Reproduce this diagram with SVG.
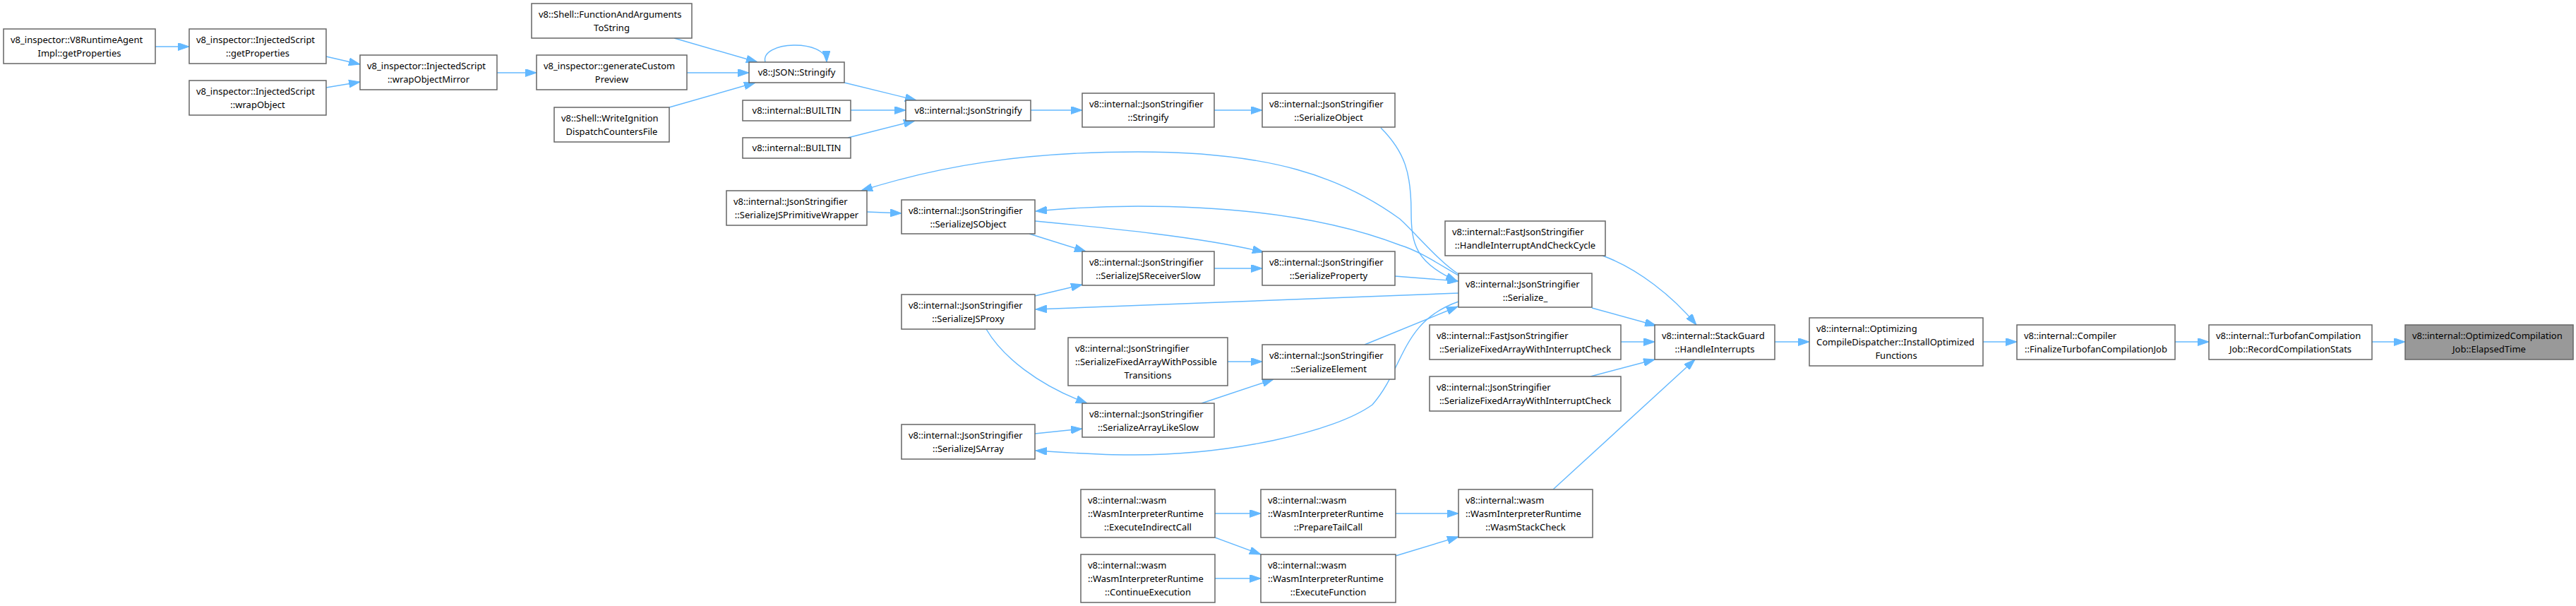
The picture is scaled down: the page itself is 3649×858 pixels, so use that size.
<svg xmlns="http://www.w3.org/2000/svg" width="3649" height="858" viewBox="0 0 3649 858">
<style>
.n rect{fill:#ffffff;stroke:#666666;stroke-width:1.5}
.n rect.hl{fill:#999999}
text{font-family:"Noto Sans","Open Sans","DejaVu Sans",sans-serif;font-size:13px;fill:#000000}
.l{text-anchor:start}
.c{text-anchor:middle}
.e path{fill:none;stroke:#63b8ff;stroke-width:1.4;marker-end:url(#arr)}
</style>
<defs>
<marker id="arr" markerUnits="userSpaceOnUse" markerWidth="16" markerHeight="11" viewBox="0 0 16 11" refX="16" refY="5.5" orient="auto">
<path d="M0,0 L16,5.5 L0,11 Z" fill="#63b8ff" stroke="#63b8ff" stroke-width="1"/>
</marker>
</defs>
<rect width="3649" height="858" fill="#ffffff"/>
<g class="e" id="edges">
<path d="M220,66 L268,66"/>
<path d="M462,80 L510,91"/>
<path d="M462,124 L510,116"/>
<path d="M704,103 L760,103"/>
<path d="M955,54 L1073,88"/>
<path d="M973,103 L1061,103"/>
<path d="M948,152 L1070,117"/>
<path d="M1084,88 C1076,58 1170,54 1171,88"/>
<path d="M1196,117 L1298,142"/>
<path d="M1205,156 L1283,156"/>
<path d="M1201,195 L1296,171"/>
<path d="M1460,156 L1533,156"/>
<path d="M1720,156 L1788,156"/>
<path d="M1956,181 C1990,215 1999,245 1999,300 C1999,345 2005,372 2064,398"/>
<path d="M1976,391 L2066,398"/>
<path d="M1933,488 L2065,434"/>
<path d="M2066,388 C2040,372 2005,330 1983,310 C1900,250 1800,215 1612,215 C1450,215 1330,235 1220,270"/>
<path d="M2066,390 C2040,375 2010,355 1983,347 C1900,315 1780,292 1612,292 C1560,292 1520,294 1467,299"/>
<path d="M2066,415 L1467,438"/>
<path d="M2066,427 C1985,455 1990,520 1944,573 C1890,612 1740,645 1600,644 C1550,644 1500,640 1467,638"/>
<path d="M1458,331 L1538,356"/>
<path d="M1466,313 C1560,322 1700,335 1790,357"/>
<path d="M1720,380 L1788,380"/>
<path d="M1228,300 L1277,302"/>
<path d="M1466,419 L1533,403"/>
<path d="M1397,466 C1420,505 1470,545 1540,571"/>
<path d="M1466,614 L1533,607"/>
<path d="M1702,571 L1804,537"/>
<path d="M1739,512 L1788,512"/>
<path d="M2255,436 L2346,461"/>
<path d="M2270,362 C2320,380 2370,420 2403,460"/>
<path d="M2296,484 L2344,484"/>
<path d="M2253,533 L2344,509"/>
<path d="M2200,693 L2401,509"/>
<path d="M2514,484 L2563,484"/>
<path d="M2809,484 L2857,484"/>
<path d="M3081,484 L3129,484"/>
<path d="M3360,484 L3407,484"/>
<path d="M1721,727 L1786,727"/>
<path d="M1721,761 L1786,785"/>
<path d="M1721,819 L1786,819"/>
<path d="M1977,727 L2066,727"/>
<path d="M1977,787 L2066,760"/>
</g>
<g class="n" id="n1"><rect x="5" y="41" width="215" height="49"/><text class="l" x="15" y="60.6">v8_inspector::V8RuntimeAgent</text><text class="c" x="112.5" y="79.6">Impl::getProperties</text></g>
<g class="n" id="n2"><rect x="268" y="41" width="194" height="49"/><text class="l" x="278" y="60.6">v8_inspector::InjectedScript</text><text class="c" x="365" y="79.6">::getProperties</text></g>
<g class="n" id="n3"><rect x="268" y="114" width="194" height="49"/><text class="l" x="278" y="133.6">v8_inspector::InjectedScript</text><text class="c" x="365" y="152.6">::wrapObject</text></g>
<g class="n" id="n4"><rect x="510" y="78" width="194" height="49"/><text class="l" x="520" y="97.6">v8_inspector::InjectedScript</text><text class="c" x="607" y="116.6">::wrapObjectMirror</text></g>
<g class="n" id="n5"><rect x="753" y="5" width="227" height="49"/><text class="l" x="763" y="24.6">v8::Shell::FunctionAndArguments</text><text class="c" x="866.5" y="43.6">ToString</text></g>
<g class="n" id="n6"><rect x="760" y="78" width="213" height="49"/><text class="l" x="770" y="97.6">v8_inspector::generateCustom</text><text class="c" x="866.5" y="116.6">Preview</text></g>
<g class="n" id="n7"><rect x="785" y="152" width="163" height="49"/><text class="l" x="795" y="171.6">v8::Shell::WriteIgnition</text><text class="c" x="866.5" y="190.6">DispatchCountersFile</text></g>
<g class="n" id="n8"><rect x="1061" y="88" width="135" height="29"/><text class="c" x="1128.5" y="107.1">v8::JSON::Stringify</text></g>
<g class="n" id="n9"><rect x="1052" y="142" width="153" height="29"/><text class="c" x="1128.5" y="161.1">v8::internal::BUILTIN</text></g>
<g class="n" id="n10"><rect x="1052" y="195" width="153" height="29"/><text class="c" x="1128.5" y="214.1">v8::internal::BUILTIN</text></g>
<g class="n" id="n11"><rect x="1283" y="142" width="177" height="29"/><text class="c" x="1371.5" y="161.1">v8::internal::JsonStringify</text></g>
<g class="n" id="n12"><rect x="1533" y="132" width="187" height="48"/><text class="l" x="1543" y="151.6">v8::internal::JsonStringifier</text><text class="c" x="1626.5" y="170.6">::Stringify</text></g>
<g class="n" id="n13"><rect x="1788" y="132" width="188" height="48"/><text class="l" x="1798" y="151.6">v8::internal::JsonStringifier</text><text class="c" x="1882" y="170.6">::SerializeObject</text></g>
<g class="n" id="n14"><rect x="1029" y="270" width="199" height="49"/><text class="l" x="1039" y="289.6">v8::internal::JsonStringifier</text><text class="c" x="1128.5" y="308.6">::SerializeJSPrimitiveWrapper</text></g>
<g class="n" id="n15"><rect x="1277" y="283" width="189" height="48"/><text class="l" x="1287" y="302.6">v8::internal::JsonStringifier</text><text class="c" x="1371.5" y="321.6">::SerializeJSObject</text></g>
<g class="n" id="n16"><rect x="1533" y="356" width="187" height="48"/><text class="l" x="1543" y="375.6">v8::internal::JsonStringifier</text><text class="c" x="1626.5" y="394.6">::SerializeJSReceiverSlow</text></g>
<g class="n" id="n17"><rect x="1788" y="356" width="188" height="48"/><text class="l" x="1798" y="375.6">v8::internal::JsonStringifier</text><text class="c" x="1882" y="394.6">::SerializeProperty</text></g>
<g class="n" id="n18"><rect x="1277" y="417" width="189" height="49"/><text class="l" x="1287" y="436.6">v8::internal::JsonStringifier</text><text class="c" x="1371.5" y="455.6">::SerializeJSProxy</text></g>
<g class="n" id="n19"><rect x="1513" y="478" width="226" height="68"/><text class="l" x="1523" y="497.6">v8::internal::JsonStringifier</text><text class="l" x="1523" y="516.6">::SerializeFixedArrayWithPossible</text><text class="c" x="1626" y="535.6">Transitions</text></g>
<g class="n" id="n20"><rect x="1788" y="488" width="188" height="49"/><text class="l" x="1798" y="507.6">v8::internal::JsonStringifier</text><text class="c" x="1882" y="526.6">::SerializeElement</text></g>
<g class="n" id="n21"><rect x="1533" y="571" width="187" height="48"/><text class="l" x="1543" y="590.6">v8::internal::JsonStringifier</text><text class="c" x="1626.5" y="609.6">::SerializeArrayLikeSlow</text></g>
<g class="n" id="n22"><rect x="1277" y="601" width="189" height="49"/><text class="l" x="1287" y="620.6">v8::internal::JsonStringifier</text><text class="c" x="1371.5" y="639.6">::SerializeJSArray</text></g>
<g class="n" id="n23"><rect x="1531" y="693" width="190" height="68"/><text class="l" x="1541" y="712.6">v8::internal::wasm</text><text class="l" x="1541" y="731.6">::WasmInterpreterRuntime</text><text class="c" x="1626" y="750.6">::ExecuteIndirectCall</text></g>
<g class="n" id="n24"><rect x="1786" y="693" width="191" height="68"/><text class="l" x="1796" y="712.6">v8::internal::wasm</text><text class="l" x="1796" y="731.6">::WasmInterpreterRuntime</text><text class="c" x="1881.5" y="750.6">::PrepareTailCall</text></g>
<g class="n" id="n25"><rect x="1531" y="785" width="190" height="68"/><text class="l" x="1541" y="804.6">v8::internal::wasm</text><text class="l" x="1541" y="823.6">::WasmInterpreterRuntime</text><text class="c" x="1626" y="842.6">::ContinueExecution</text></g>
<g class="n" id="n26"><rect x="1786" y="785" width="191" height="68"/><text class="l" x="1796" y="804.6">v8::internal::wasm</text><text class="l" x="1796" y="823.6">::WasmInterpreterRuntime</text><text class="c" x="1881.5" y="842.6">::ExecuteFunction</text></g>
<g class="n" id="n27"><rect x="2047" y="313" width="227" height="49"/><text class="l" x="2057" y="332.6">v8::internal::FastJsonStringifier</text><text class="c" x="2160.5" y="351.6">::HandleInterruptAndCheckCycle</text></g>
<g class="n" id="n28"><rect x="2066" y="387" width="189" height="48"/><text class="l" x="2076" y="406.6">v8::internal::JsonStringifier</text><text class="c" x="2160.5" y="425.6">::Serialize_</text></g>
<g class="n" id="n29"><rect x="2025" y="460" width="271" height="49"/><text class="l" x="2035" y="479.6">v8::internal::FastJsonStringifier</text><text class="c" x="2160.5" y="498.6">::SerializeFixedArrayWithInterruptCheck</text></g>
<g class="n" id="n30"><rect x="2025" y="533" width="271" height="49"/><text class="l" x="2035" y="552.6">v8::internal::JsonStringifier</text><text class="c" x="2160.5" y="571.6">::SerializeFixedArrayWithInterruptCheck</text></g>
<g class="n" id="n31"><rect x="2066" y="693" width="190" height="68"/><text class="l" x="2076" y="712.6">v8::internal::wasm</text><text class="l" x="2076" y="731.6">::WasmInterpreterRuntime</text><text class="c" x="2161" y="750.6">::WasmStackCheck</text></g>
<g class="n" id="n32"><rect x="2344" y="460" width="170" height="49"/><text class="l" x="2354" y="479.6">v8::internal::StackGuard</text><text class="c" x="2429" y="498.6">::HandleInterrupts</text></g>
<g class="n" id="n33"><rect x="2563" y="450" width="246" height="68"/><text class="l" x="2573" y="469.6">v8::internal::Optimizing</text><text class="l" x="2573" y="488.6">CompileDispatcher::InstallOptimized</text><text class="c" x="2686" y="507.6">Functions</text></g>
<g class="n" id="n34"><rect x="2857" y="460" width="224" height="49"/><text class="l" x="2867" y="479.6">v8::internal::Compiler</text><text class="c" x="2969" y="498.6">::FinalizeTurbofanCompilationJob</text></g>
<g class="n" id="n35"><rect x="3129" y="460" width="231" height="49"/><text class="l" x="3139" y="479.6">v8::internal::TurbofanCompilation</text><text class="c" x="3244.5" y="498.6">Job::RecordCompilationStats</text></g>
<g class="n" id="n36"><rect class="hl" x="3407" y="460" width="238" height="49"/><text class="l" x="3417" y="479.6">v8::internal::OptimizedCompilation</text><text class="c" x="3526" y="498.6">Job::ElapsedTime</text></g>
</svg>
